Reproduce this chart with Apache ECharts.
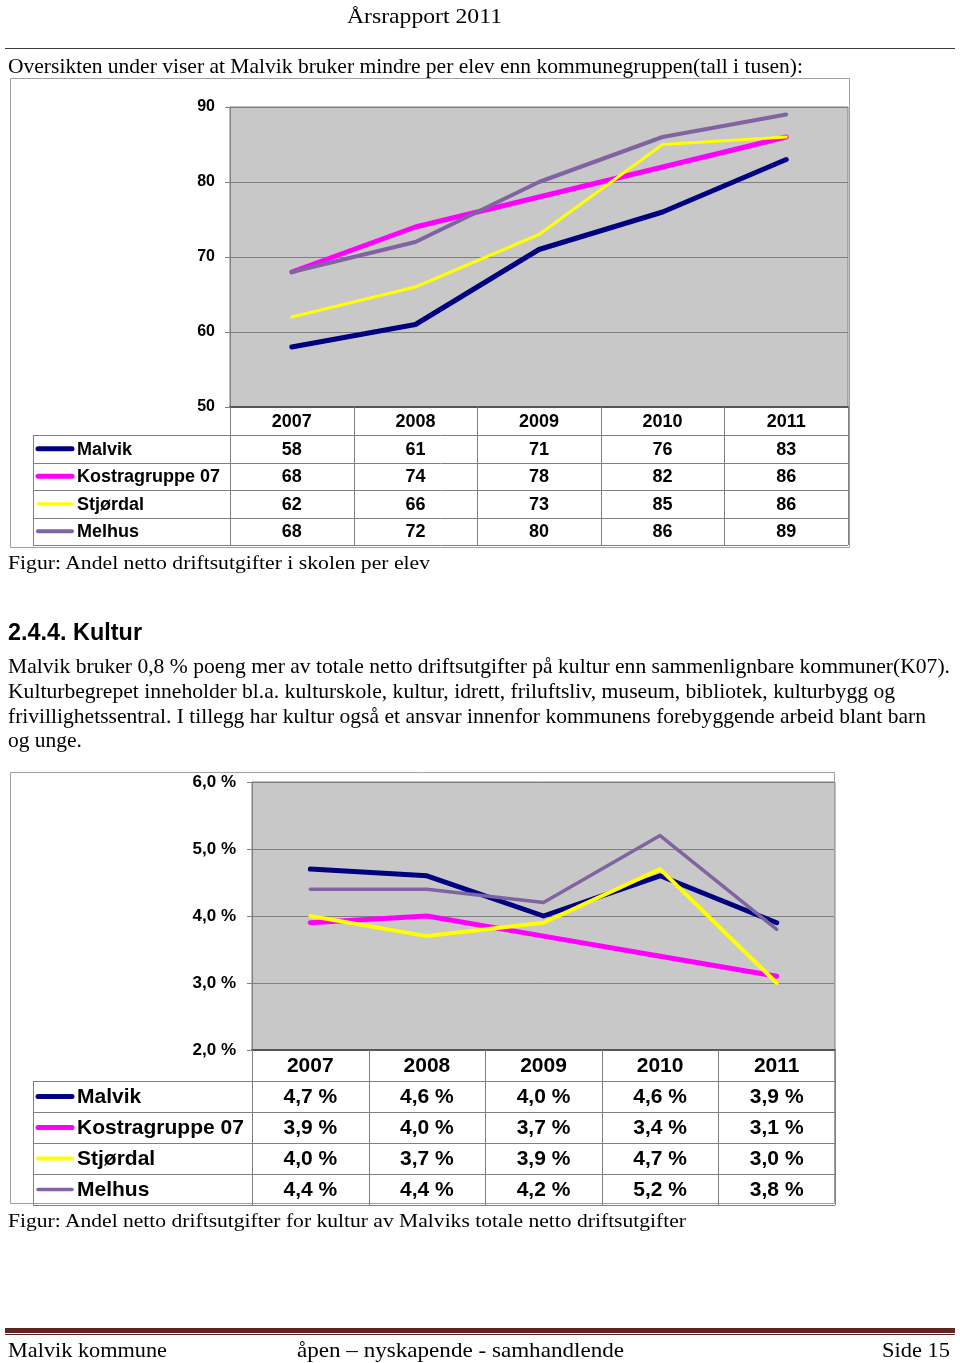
<!DOCTYPE html>
<html>
<head>
<meta charset="utf-8">
<script src="https://cdn.jsdelivr.net/npm/echarts@6/dist/echarts.min.js"></script>
<style>
  html,body{margin:0;padding:0;background:#fff;}
  #page{position:relative;width:960px;height:1363px;overflow:hidden;}
  #chart{position:absolute;left:0;top:0;width:960px;height:1363px;}
  .t{position:absolute;white-space:nowrap;line-height:1;color:#000;transform-origin:0 0;font-family:"Liberation Serif",serif;}
  .rule{position:absolute;}
</style>
</head>
<body>
<div id="page">
  <div id="chart"></div>
</div>
<script>
// ---------- data ----------
const CATEGORIES = ['2007', '2008', '2009', '2010', '2011'];
const SERIES_NAMES = ['Malvik', 'Kostragruppe 07', 'Stjørdal', 'Melhus'];

// Figure 1: netto driftsutgifter i skolen per elev (tall i tusen)
const skoleMalvik    = [58, 61, 71, 76, 83];
const skoleKostra    = [68, 74, 78, 82, 86];
const skoleStjordal  = [62, 66, 73, 85, 86];
const skoleMelhus    = [68, 72, 80, 86, 89];

// Figure 2: andel netto driftsutgifter for kultur (%)
const kulturMalvik   = [4.7, 4.6, 4.0, 4.6, 3.9];
const kulturKostra   = [3.9, 4.0, 3.7, 3.4, 3.1];
const kulturStjordal = [4.0, 3.7, 3.9, 4.7, 3.0];
const kulturMelhus   = [4.4, 4.4, 4.2, 5.2, 3.8];

// ---------- styles ----------
const COLORS = ['#000080', '#ff00ff', '#ffff00', '#8064a2'];
const WIDTHS1 = [5, 5, 3, 4];
const WIDTHS2 = [5, 5, 4, 3.5];
const FONT = '"Liberation Sans", Arial, sans-serif';

const skole = [skoleMalvik, skoleKostra, skoleStjordal, skoleMelhus];
const kultur = [kulturMalvik, kulturKostra, kulturStjordal, kulturMelhus];
const fmtPct = v => v.toFixed(1).replace('.', ',') + ' %';

// ---------- document text ----------
const page = document.getElementById('page');
const texts = [];
function addText(str, x0, x1, baseline, size, opts) {
  opts = opts || {};
  const d = document.createElement('div');
  d.className = 't';
  d.textContent = str;
  d.style.fontSize = size + 'px';
  if (opts.family) d.style.fontFamily = opts.family;
  if (opts.bold) d.style.fontWeight = 'bold';
  const asc = opts.family && opts.family.indexOf('Sans') >= 0 ? 0.8465 : 0.8375;
  d.style.left = x0 + 'px';
  d.style.top = (baseline - asc * size) + 'px';
  d.style.zIndex = 5;
  page.appendChild(d);
  texts.push({ d, w: x1 - x0 });
}
function addRule(x, y, w, h, color) {
  const r = document.createElement('div');
  r.className = 'rule';
  Object.assign(r.style, { left: x + 'px', top: y + 'px', width: w + 'px', height: h + 'px', background: color });
  page.appendChild(r);
}

addText('Årsrapport 2011', 347, 502, 23, 22);
addRule(5, 47.5, 950, 1.5, '#3a3a3a');
addText('Oversikten under viser at Malvik bruker mindre per elev enn kommunegruppen(tall i tusen):', 8, 803, 73, 22);
addText('Figur: Andel netto driftsutgifter i skolen per elev', 8, 430, 569, 19);
addText('2.4.4. Kultur', 8, 142, 640, 23, { family: '"Liberation Sans"', bold: true });
addText('Malvik bruker 0,8 % poeng mer av totale netto driftsutgifter på kultur enn sammenlignbare kommuner(K07).', 8, 950, 674, 21);
addText('Kulturbegrepet inneholder bl.a. kulturskole, kultur, idrett, friluftsliv, museum, bibliotek, kulturbygg og', 8, 895, 699, 21);
addText('frivillighetssentral. I tillegg har kultur også et ansvar innenfor kommunens forebyggende arbeid blant barn', 8, 926, 724, 21);
addText('og unge.', 8, 82, 748, 21);
addText('Figur: Andel netto driftsutgifter for kultur av Malviks totale netto driftsutgifter', 8, 686, 1227, 19);
addRule(5, 1328, 950, 4.5, '#622423');
addRule(5, 1333.5, 950, 1, '#622423');
addText('Malvik kommune', 8, 167, 1358, 21);
addText('åpen – nyskapende - samhandlende', 297, 624, 1358, 21);
addText('Side 15', 882, 950, 1358, 21);

function fitTexts() {
  texts.forEach(({ d, w }) => {
    d.style.transform = 'none';
    const nat = d.getBoundingClientRect().width;
    if (nat > 0) d.style.transform = 'scaleX(' + (w / nat) + ')';
  });
}
fitTexts();
if (document.fonts && document.fonts.ready) document.fonts.ready.then(fitTexts);

// ---------- chart ----------
const chart = echarts.init(document.getElementById('chart'), null, { renderer: 'canvas' });

function yAxisCfg(gridIndex, min, max, interval, fmt, fs, margin) {
  return {
    gridIndex, type: 'value', min, max, interval,
    axisLine: { show: true, lineStyle: { color: '#808080', width: 1 } },
    axisTick: { show: true, length: 5, lineStyle: { color: '#808080' } },
    axisLabel: { margin, color: '#000', fontWeight: 'bold', fontSize: fs, fontFamily: FONT, formatter: fmt, padding: [4, 0, 0, 0] },
    splitLine: { show: true, lineStyle: { color: '#808080', width: 1 } }
  };
}
function xAxisCfg(gridIndex) {
  return {
    gridIndex, type: 'category', data: CATEGORIES, boundaryGap: true,
    axisLine: { show: true, lineStyle: { color: '#555', width: 2 } },
    axisTick: { show: false }, axisLabel: { show: false }, splitLine: { show: false }
  };
}
function seriesFor(arrs, idx, widths) {
  return arrs.map((a, i) => ({
    name: SERIES_NAMES[i], type: 'line', xAxisIndex: idx, yAxisIndex: idx, data: a,
    symbol: 'none', smooth: false, z: 3 + i,
    lineStyle: { color: COLORS[i], width: widths[i], cap: 'round', join: 'round' },
    itemStyle: { color: COLORS[i] }
  }));
}

chart.setOption({
  animation: false,
  grid: [
    { left: 230, top: 107, width: 618, height: 300, show: true, backgroundColor: '#c8c8c8', borderColor: '#808080', borderWidth: 1 },
    { left: 252, top: 782, width: 583, height: 268, show: true, backgroundColor: '#c8c8c8', borderColor: '#808080', borderWidth: 1 }
  ],
  xAxis: [xAxisCfg(0), xAxisCfg(1)],
  yAxis: [
    yAxisCfg(0, 50, 90, 10, v => String(v), 16, 15),
    yAxisCfg(1, 2, 6, 1, v => fmtPct(v), 17, 16)
  ],
  series: [].concat(seriesFor(skole, 0, WIDTHS1), seriesFor(kultur, 1, WIDTHS2))
});

function tableGraphics(axisIdx, yMin, headerH, rowH, legendLeft, fs, arrs, fmt, widths) {
  const els = [];
  const cx = CATEGORIES.map(c => chart.convertToPixel({ xAxisIndex: axisIdx }, c));
  const band = cx[1] - cx[0];
  const left = cx[0] - band / 2, right = cx[cx.length - 1] + band / 2;
  const top = chart.convertToPixel({ yAxisIndex: axisIdx }, yMin);
  const bottom = top + headerH + rowH * arrs.length;
  const line = (x1, y1, x2, y2, color, w) => els.push({
    type: 'line', silent: true, z: 20,
    shape: { x1, y1, x2, y2 }, style: { stroke: color || '#808080', lineWidth: w || 1 }
  });
  for (let j = 0; j <= CATEGORIES.length; j++) {
    const x = Math.round(left + j * band) + 0.5;
    line(x, top, x, bottom);
  }
  line(legendLeft + 0.5, top + headerH, legendLeft + 0.5, bottom);
  for (let r = 0; r <= arrs.length; r++) {
    const y = Math.round(top + headerH + r * rowH) + 0.5;
    line(legendLeft, y, right, y);
  }
  const font = 'bold ' + fs + 'px ' + FONT;
  CATEGORIES.forEach((c, i) => els.push({
    type: 'text', silent: true, z: 21, x: cx[i], y: top + headerH / 2 + 1,
    style: { text: c, font, fill: '#000', align: 'center', verticalAlign: 'middle' }
  }));
  arrs.forEach((a, r) => {
    const cy = top + headerH + rowH * (r + 0.5) + 1;
    a.forEach((v, i) => els.push({
      type: 'text', silent: true, z: 21, x: cx[i], y: cy,
      style: { text: fmt(v), font, fill: '#000', align: 'center', verticalAlign: 'middle' }
    }));
    els.push({
      type: 'line', silent: true, z: 21,
      shape: { x1: legendLeft + 5, y1: cy - 1, x2: legendLeft + 39, y2: cy - 1 },
      style: { stroke: COLORS[r], lineWidth: widths[r], lineCap: 'round' }
    });
    els.push({
      type: 'text', silent: true, z: 21, x: legendLeft + 44, y: cy,
      style: { text: SERIES_NAMES[r], font, fill: '#000', align: 'left', verticalAlign: 'middle' }
    });
  });
  return els;
}

const graphics = [
  { type: 'rect', silent: true, z: 0, shape: { x: 10.5, y: 78.5, width: 839, height: 469 }, style: { fill: 'none', stroke: '#a0a0a0', lineWidth: 1 } },
  { type: 'rect', silent: true, z: 0, shape: { x: 10.5, y: 772.5, width: 824, height: 431 }, style: { fill: 'none', stroke: '#a0a0a0', lineWidth: 1 } }
].concat(
  tableGraphics(0, 50, 28, 27.5, 33, 18, skole, v => String(v), [5, 5, 3, 4]),
  tableGraphics(1, 2, 31, 31, 33, 21, kultur, fmtPct, [5, 5, 4, 3.5])
);
chart.setOption({ graphic: graphics });
</script>
</body>
</html>
